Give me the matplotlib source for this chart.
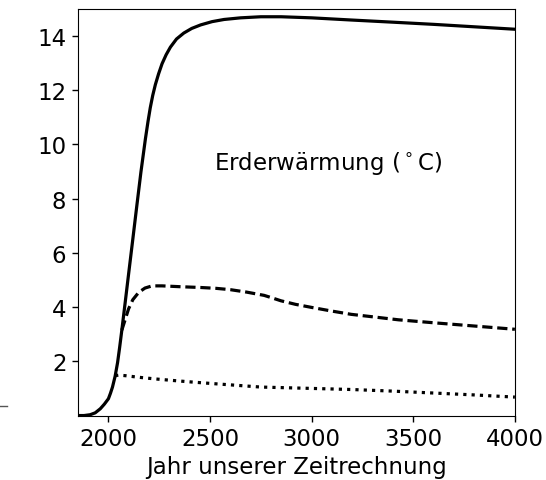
import matplotlib
matplotlib.use("Agg")
import matplotlib.pyplot as plt
from matplotlib.lines import Line2D

# Solid curve (high scenario)
years_solid = [1850, 1880, 1910, 1935, 1960, 1980, 2000, 2010, 2020, 2033, 2045, 2055, 2066,
               2083, 2099, 2120, 2140, 2160, 2182, 2195, 2206, 2218, 2231, 2247, 2264, 2284,
               2305, 2335, 2371, 2410, 2454, 2510, 2569, 2650, 2750, 2850, 3000, 3195, 3400,
               3600, 3800, 4000]
temp_solid = [0.0, 0.0, 0.03, 0.1, 0.25, 0.42, 0.62, 0.82, 1.05, 1.45, 1.95, 2.5, 3.15,
              4.2, 5.2, 6.5, 7.75, 8.98, 10.2, 10.85, 11.35, 11.8, 12.2, 12.6, 12.97, 13.3,
              13.58, 13.88, 14.1, 14.27, 14.4, 14.52, 14.6, 14.66, 14.7, 14.7, 14.66, 14.58, 14.5,
              14.42, 14.33, 14.24]

# Dashed curve (medium scenario)
years_dash = [2066, 2083, 2099, 2120, 2149, 2180, 2215, 2264, 2350, 2454, 2528, 2600,
              2680, 2730, 2766, 2800, 2849, 2920, 2997, 3100, 3195, 3300, 3426, 3600, 3800, 4000]
temp_dash = [3.15, 3.55, 3.93, 4.27, 4.54, 4.7, 4.78, 4.78, 4.75, 4.72, 4.69, 4.64,
             4.55, 4.48, 4.43, 4.35, 4.23, 4.1, 3.99, 3.85, 3.73, 3.64, 3.53, 3.42, 3.3, 3.18]

# Dotted curve (low scenario)
years_dot = [2033, 2050, 2083, 2150, 2230, 2322, 2420, 2528, 2750, 3000, 3195, 3400, 3600, 3800, 4000]
temp_dot = [1.47, 1.49, 1.47, 1.41, 1.35, 1.29, 1.23, 1.17, 1.05, 1.0, 0.96, 0.9, 0.83, 0.76, 0.68]

xticks = [2000, 2500, 3000, 3500, 4000]
yticks = [2, 4, 6, 8, 10, 12, 14]

fig = plt.figure(figsize=(5.46, 4.81), dpi=100)
ax = fig.add_axes([0.142, 0.134, 0.801, 0.846])

ax.plot(years_solid, temp_solid, color='black', lw=2.3, linestyle='-')
ax.plot(years_dash, temp_dash, color='black', lw=2.3, linestyle=(0, (3.2, 1.5)))
ax.plot(years_dot, temp_dot, color='black', lw=2.3, linestyle=(0, (1, 1.6)))

ax.set_xlim(1848, 4000)
ax.set_ylim(0, 15)
ax.set_xticks(xticks)
ax.set_yticks(yticks)
ax.tick_params(labelsize=16.5, length=4, width=1, pad=4)
ax.set_xlabel('Jahr unserer Zeitrechnung', fontsize=16.5, labelpad=4)

ax.text(3081, 9.33, r'Erderwärmung ($^\circ$C)', fontsize=16.5, ha='center', va='center')

fig.add_artist(Line2D([0.0, 0.013], [1 - 406.7 / 481, 1 - 406.7 / 481],
                      transform=fig.transFigure, color='#555555', lw=1))

fig.savefig('out.png', dpi=100)
